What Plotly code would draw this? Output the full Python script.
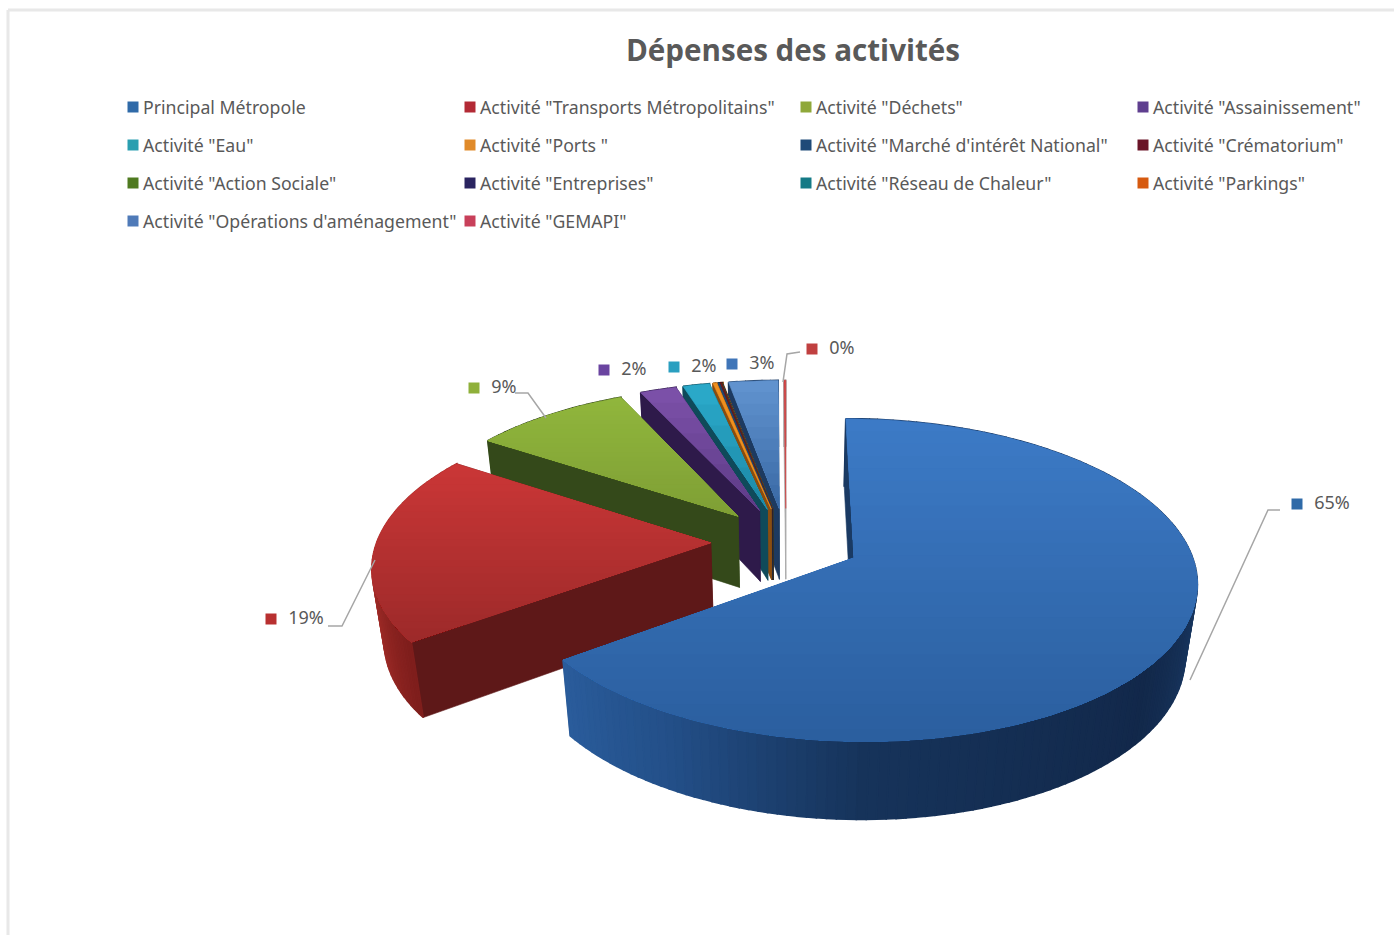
import math
import plotly.graph_objects as go

# ---------- data ----------
categories = ['Principal Métropole', 'Activité "Transports Métropolitains"', 'Activité "Déchets"',
              'Activité "Assainissement"', 'Activité "Eau"', 'Activité "Ports "',
              'Activité "Marché d\'intérêt National"', 'Activité "Crématorium"',
              'Activité "Action Sociale"', 'Activité "Entreprises"', 'Activité "Réseau de Chaleur"',
              'Activité "Parkings"', 'Activité "Opérations d\'aménagement"', 'Activité "GEMAPI"']
values = [64.9, 19.4, 8.8, 2.05, 1.5, 0.22, 0.1, 0.1, 0.01, 0.01, 0.01, 0.03, 2.77, 0.1]
title_text = 'Dépenses des activités'

# ---------- styles ----------
top_light = ['#3c7ac6', '#ca3636', '#90b63c', '#7b50a8', '#2aa8c8', '#f0901f', '#23466f', '#6a1c1c',
             '#5f7a28', '#2b2050', '#0f6a7a', '#d85f10', '#6092ce', '#d04040']
top_dark = ['#2b5f9f', '#9d2a2a', '#7f9f35', '#5f3c88', '#1d8aa8', '#e07d15', '#1a3a5c', '#5e1818',
            '#4e6720', '#2b2050', '#0f6a7a', '#d85f10', '#3a6aa6', '#c03434']
wall = ['#1a3a63', '#5e1818', '#34491a', '#2e1a4a', '#0f4a5a', '#8a4d10', '#142c48', '#4a1212',
        '#34491a', '#20183c', '#0b4a55', '#8a3f0a', '#1d3a60', '#a8a8a8']
rim_stops = {
    0: [(0, '#16335c'), (90, '#1c3f6c'), (130, '#12284a'), (180, '#16335a'), (210, '#234f88'), (236, '#2b5e9e')],
    1: [(234, '#7e1e1c'), (260, '#a82e2a'), (304, '#a82e2a')],
}
legend_colors = ['#2f6aa8', '#b32a35', '#8fa83a', '#5f3f8f', '#2a9fb0', '#e08a2a', '#1f4a78', '#6a1428',
                 '#4f7a20', '#2a2460', '#157a86', '#d65a10', '#4f7ab8', '#c8405a']
legend_x = [133, 470, 806, 1143]
legend_y = [107, 145, 183, 221]
TEXT = '#595959'
FONT = 'Noto Sans'

# ---------- projection ----------
CX, CY, A, B, P, Q, H, EXPL = 786, 542, 334, 154, 0.136, 0.03, 72, 0.225


def proj(X, Y, z=0.0):
    d = 1 + P * Y + Q * z
    return CX + A * X / d, CY - B * Y / d + H * z / (1 + P * Y)


def hex2(c):
    return [int(c[i:i + 2], 16) for i in (1, 3, 5)]


def mix(c1, c2, t):
    a, b = hex2(c1), hex2(c2)
    return '#%02x%02x%02x' % tuple(round(a[i] + (b[i] - a[i]) * t) for i in range(3))


def clip_below(poly, y0):
    out = []
    for i, (x1, y1) in enumerate(poly):
        x2, y2 = poly[(i + 1) % len(poly)]
        if y1 >= y0:
            out.append((x1, y1))
        if (y1 >= y0) != (y2 >= y0):
            t = (y0 - y1) / (y2 - y1)
            out.append((x1 + t * (x2 - x1), y0))
    return out


fig = go.Figure()


def add_poly(poly, color, width=0.6):
    xs = [p[0] for p in poly] + [poly[0][0]]
    ys = [p[1] for p in poly] + [poly[0][1]]
    fig.add_trace(go.Scatter(x=xs, y=ys, mode='lines', fill='toself', fillcolor=color,
                             line=dict(color=color, width=width), hoverinfo='skip', showlegend=False))


def rim_color(i, deg):
    stops = rim_stops.get(i)
    if not stops:
        return wall[i]
    for (a0, c0), (a1, c1) in zip(stops, stops[1:]):
        if a0 <= deg <= a1:
            return mix(c0, c1, (deg - a0) / (a1 - a0))
    return stops[-1][1]


total = sum(values)
slices = []
cum = 0.0
for i, v in enumerate(values):
    a0, a1 = cum / total * 360, (cum + v) / total * 360
    cum += v
    slices.append((i, a0, a1))


def draw_slice(i, d0, d1):
    mid = math.radians((d0 + d1) / 2)
    ex, ey = EXPL * math.sin(mid), EXPL * math.cos(mid)
    n = max(2, int((d1 - d0) / 1.5))
    degs = [d0 + (d1 - d0) * k / n for k in range(n + 1)]
    pt = lambda d: (ex + math.sin(math.radians(d)), ey + math.cos(math.radians(d)))
    faces = []
    for a, b in zip(degs, degs[1:]):
        pa, pb = pt(a), pt(b)
        faces.append(((pa[1] + pb[1]) / 2,
                      [proj(*pa), proj(*pb), proj(*pb, 1), proj(*pa, 1)],
                      rim_color(i, (a + b) / 2), 1.6))
    for d in (d0, d1):
        p = pt(d)
        faces.append(((p[1] + ey) / 2,
                      [proj(ex, ey), proj(*p), proj(*p, 1), proj(ex, ey, 1)], wall[i], 0.6))
    for _, poly, col, w in sorted(faces, key=lambda f: -f[0]):
        add_poly(poly, col, w)
    top = [proj(ex, ey)] + [proj(*pt(d)) for d in degs]
    ymin, ymax = min(p[1] for p in top), max(p[1] for p in top)
    add_poly(top, top_light[i])
    bands = max(1, min(26, int((d1 - d0) * 1.2)))
    for k in range(1, bands):
        y0 = ymin + (ymax - ymin) * k / bands
        part = clip_below(top, y0)
        if len(part) >= 3:
            add_poly(part, mix(top_light[i], top_dark[i], k / (bands - 1)), 0)


for i, d0, d1 in sorted(slices, key=lambda s: -math.cos(math.radians((s[1] + s[2]) / 2))):
    draw_slice(i, d0, d1)

# ---------- leader lines ----------
leaders = [([1280, 1268, 1190], [510, 510, 680]),
           ([328, 342, 375], [626, 626, 560]),
           ([515, 528, 546], [393, 393, 418]),
           ([800, 787, 783], [352, 354, 382])]
for lx, ly in leaders:
    fig.add_trace(go.Scatter(x=lx, y=ly, mode='lines', line=dict(color='#a6a6a6', width=1.5),
                             hoverinfo='skip', showlegend=False))

# ---------- data labels ----------
label_text = ['65%', '19%', '9%', '2%', '2%', '3%', '0%']
label_marker_x = [1297, 271, 474, 604, 674, 732, 812]
label_y = [504, 619, 388, 370, 367, 364, 349]
label_colors = ['#2f6aa8', '#b83030', '#8fb03a', '#6a44a0', '#2a9fc0', '#3f75b8', '#c04040']
fig.add_trace(go.Scatter(x=label_marker_x, y=label_y, mode='markers+text',
                         text=['  ' + t for t in label_text], textposition='middle right',
                         textfont=dict(family=FONT, size=18, color=TEXT),
                         marker=dict(symbol='square', size=11, color=label_colors,
                                     line=dict(width=0)),
                         hoverinfo='skip', showlegend=False))

# ---------- legend ----------
lx, ly = [], []
for k in range(len(categories)):
    lx.append(legend_x[k % 4])
    ly.append(legend_y[k // 4])
fig.add_trace(go.Scatter(x=lx, y=ly, mode='markers', hoverinfo='skip', showlegend=False,
                         marker=dict(symbol='square', size=11, color=legend_colors,
                                     line=dict(width=0))))
annotations = [dict(x=x + 8, y=y, xref='x', yref='y', text=c, showarrow=False, xanchor='left',
                    yanchor='middle', font=dict(family=FONT, size=17.7, color=TEXT))
               for x, y, c in zip(lx, ly, categories)]

fig.update_layout(
    width=1394, height=935, autosize=False, margin=dict(l=0, r=0, t=0, b=0),
    paper_bgcolor='white', plot_bgcolor='white', showlegend=False,
    title=dict(text=title_text, x=793 / 1394, y=1 - 51 / 935, xanchor='center', yanchor='middle',
               font=dict(family='Open Sans', size=29.6, color=TEXT, weight='bold')),
    xaxis=dict(range=[0, 1394], visible=False, fixedrange=True),
    yaxis=dict(range=[935, 0], visible=False, fixedrange=True),
    annotations=annotations,
    shapes=[dict(type='line', xref='x', yref='y', x0=8, x1=1394, y0=10, y1=10,
                 line=dict(color='#e8e8e8', width=3)),
            dict(type='line', xref='x', yref='y', x0=8, x1=8, y0=10, y1=935,
                 line=dict(color='#e8e8e8', width=3))],
)
fig.write_html('out.html', post_script="document.body.style.margin='0';document.body.style.overflow='hidden';",
               config={'displayModeBar': False})
